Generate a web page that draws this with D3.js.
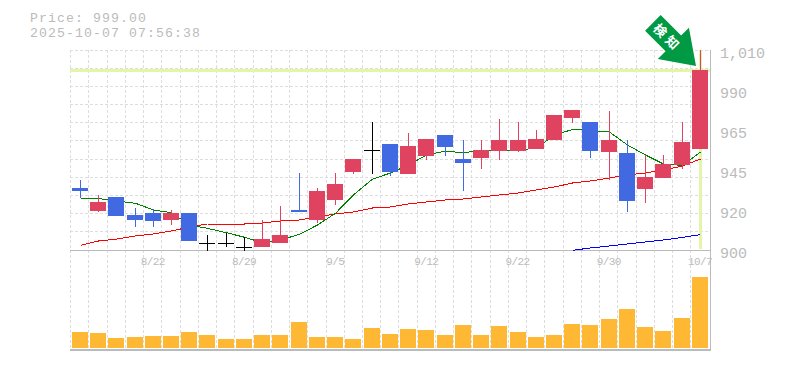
<!DOCTYPE html>
<html>
<head>
<meta charset="utf-8">
<script src="https://cdn.jsdelivr.net/npm/d3@7"></script>
<style>
html, body { margin: 0; padding: 0; background: #fff; }
svg { display: block; }
text { font-family: "Liberation Mono", monospace; fill: #bbb; }
.crisp { shape-rendering: crispEdges; }
</style>
</head>
<body>
<svg id="chart" width="785" height="370"></svg>
<script>
let dates = ["8/18","8/19","8/20","8/21","8/22","8/25","8/26","8/27","8/28","8/29",
    "9/1","9/2","9/3","9/4","9/5","9/8","9/9","9/10","9/11","9/12",
    "9/16","9/17","9/18","9/19","9/22","9/24","9/25","9/26","9/29","9/30",
    "10/1","10/2","10/3","10/6","10/7"]

let opens  = [934.1,921.45,929.15,919.25,920.35,916.5,920.35,904,904,901.8,
    901.65,903.85,922,916.5,927.5,942.9,955,958.3,941.8,951.7,
    963.25,950.05,950.6,954.45,954.45,955.55,960.5,972.6,970.4,953.9,
    953.35,933.55,939.6,946.75,955.55]
let closes = [932.45,926.4,918.7,916.5,915.95,920.35,904.95,904,904,901.8,
    906,908.25,920.9,932.45,936.3,950.05,955,942.9,957.2,961.05,
    956.65,947.85,955,960.5,960.5,961.05,974.25,977,954.45,960.5,
    926.95,940.15,947.3,959.4,999]
let highs  = [938.5,930.25,929.15,923.1,922.55,922,920.35,908.25,909.35,907.15,
    916.5,924.2,942.35,934.1,942.35,950.05,970.4,958.3,964.35,961.05,
    963.25,960.5,960.5,972.05,970.4,966,974.25,977,970.4,976.45,
    960.5,952.25,952.25,970.4,1010]
let lows   = [928.8,920.9,918.7,912.65,912.65,913.75,904.95,899.6,901.8,899.5,
    901.65,903.85,920.9,914.85,924.75,941.8,941.8,940.7,941.8,949.5,
    951.7,932.45,944.55,949.5,953.9,955.55,960.5,969.85,950.6,938.5,
    920.9,925.85,939.6,944.55,955.55]

let ma_short = [928.6,928.3,927,925.7,922,920.5,913.75,911.9,909.5,907,
    904,905.5,908.6,913.75,920.2,930.25,939,942.35,946.75,952.25,
    954.45,953.35,955,955,955,956,963.25,966.3,965.7,964.9,
    957.75,952.25,947.3,946.5,953.9]
let ma_mid = [902.6,904.95,906,907.7,908.8,910.45,912.65,914.3,914.3,914.3,
    914.85,915.95,916.5,918.15,919.8,920.9,923.1,923.65,925.3,926.4,
    927.5,928.05,929.15,930.25,931.35,933,934.65,936.85,937.95,939.6,
    941.25,942.35,944,946.2,950.05]
let ma_long = [null,null,null,null,null,null,null,null,null,null,
    null,null,null,null,null,null,null,null,null,null,
    null,null,null,null,null,null,null,899.85,901.1,902.2,
    903.3,904.4,905.5,906.9,908.5]

let volumes = [16,15,10,11,12,12,16,13,9,9,13,13,26,11,11,9,20,14,19,18,
    13,23,13,22,16,11,13,24,23,29,39,21,17,30,71]

let price_ticks = [900,922,944,966,988,1010]
let price_labels = ["900","920","945","965","990","1,010"]
let grid_prices = [900,910,920,930,940,950,960,970,980,990,1000,1010]
let date_ticks = ["8/22","8/29","9/5","9/12","9/22","9/30","10/7"]
let last_price = 999
let title_lines = ["Price: 999.00", "2025-10-07 07:56:38"]

let colors = {up: '#e0435f', down: '#4169e1', flat: '#000', vol: '#ffb833',
    grid: '#ddd', frame: '#bbb', mark: '#e3f5a8', arrow: '#009944'}

let svg = d3.select('#chart')

let x = d3.scaleBand().domain(dates).range([70.7, 709])
let y = d3.scaleLinear().domain([900, 1010]).range([250, 50])
let yVol = d3.scaleLinear().domain([0, 100]).range([348, 248])

let center = d => Math.round(x(d) + x.step() / 2)

// GRID
svg.append('g').attr('class', 'crisp')
    .selectAll('line.h').data(grid_prices).enter().append('line')
    .attr('x1', 70).attr('x2', 710)
    .attr('y1', d => Math.floor(y(d)) + 0.5).attr('y2', d => Math.floor(y(d)) + 0.5)
    .attr('stroke', colors.grid).attr('stroke-dasharray', '3,2')

svg.append('g').attr('class', 'crisp')
    .selectAll('line.v').data(dates).enter().append('line')
    .attr('x1', d => Math.floor(x(d)) + 0.5).attr('x2', d => Math.floor(x(d)) + 0.5)
    .attr('y1', 50).attr('y2', 350)
    .attr('stroke', colors.grid).attr('stroke-dasharray', '3,2')

// LAST PRICE MARKER
let marker = svg.append('g').attr('class', 'crisp')
marker.append('rect')
    .attr('x', 70).attr('width', 640)
    .attr('y', y(last_price) - 1).attr('height', 3)
    .attr('fill', colors.mark)
marker.append('rect')
    .attr('x', center(dates[dates.length - 1]) - 1).attr('width', 3)
    .attr('y', 50).attr('height', 199)
    .attr('fill', colors.mark)

// FRAME
let frame = svg.append('g').attr('class', 'crisp').attr('stroke', colors.frame)
frame.append('line').attr('x1', 70).attr('x2', 711).attr('y1', 250.5).attr('y2', 250.5)
frame.append('line').attr('x1', 70).attr('x2', 711).attr('y1', 350).attr('y2', 350).attr('stroke-width', 2)
frame.append('line').attr('x1', 710.5).attr('x2', 710.5).attr('y1', 50).attr('y2', 351)

// VOLUME
svg.append('g').attr('class', 'crisp')
    .selectAll('rect').data(dates).enter().append('rect')
    .attr('x', d => center(d) - 8).attr('width', 16)
    .attr('y', (d, i) => yVol(volumes[i]))
    .attr('height', (d, i) => yVol(0) - yVol(volumes[i]))
    .attr('fill', colors.vol)

// MOVING AVERAGES
let maLine = d3.line()
    .defined(d => d.value !== null)
    .x(d => center(d.date) + 0.5)
    .y(d => y(d.value))

let ma_series = [[ma_long, '#00f'], [ma_mid, '#f00'], [ma_short, '#008000']]
ma_series.forEach(function(s){
    svg.append('path')
        .datum(dates.map((date, i) => ({date: date, value: s[0][i]})))
        .attr('class', 'crisp')
        .attr('fill', 'none')
        .attr('stroke', s[1])
        .attr('d', maLine)
})

// CANDLES
let candles = dates.map((date, i) => ({date: date, open: opens[i], close: closes[i], high: highs[i], low: lows[i]}))
let candleColor = d => d.close > d.open ? colors.up : d.close < d.open ? colors.down : colors.flat

let candle = svg.append('g').attr('class', 'crisp')
    .selectAll('g').data(candles).enter().append('g')

candle.append('line')
    .attr('x1', d => center(d.date) + 0.5).attr('x2', d => center(d.date) + 0.5)
    .attr('y1', d => y(d.high)).attr('y2', d => y(d.low))
    .attr('stroke', candleColor)

candle.append('rect')
    .attr('x', d => center(d.date) - 8).attr('width', 16)
    .attr('y', d => y(Math.max(d.open, d.close)))
    .attr('height', d => Math.max(1, Math.abs(y(d.open) - y(d.close))))
    .attr('fill', candleColor)

// AXES
let priceAxis = d3.axisRight(y)
    .tickValues(price_ticks)
    .tickFormat((d, i) => price_labels[i])
    .tickSize(0).tickPadding(10)
svg.append('g')
    .attr('transform', 'translate(710,3)')
    .call(priceAxis)
    .call(g => g.select('.domain').remove())
    .selectAll('text').style('font-size', '15px')

let dateAxis = d3.axisBottom(x)
    .tickValues(date_ticks)
    .tickSize(0).tickPadding(0)
svg.append('g')
    .attr('transform', 'translate(0,257)')
    .call(dateAxis)
    .call(g => g.select('.domain').remove())
    .selectAll('text')
    .style('font-size', '11px')
    .style('letter-spacing', '-0.6px')

// TITLE
svg.selectAll('text.title').data(title_lines).enter().append('text')
    .attr('class', 'title')
    .attr('x', 30)
    .attr('y', (d, i) => 22 + i * 15)
    .style('font-size', '13.2px')
    .style('letter-spacing', '1.08px')
    .text(d => d)

// ARROW
let tipX = center(dates[dates.length - 1]) - 4
let tipY = y(last_price) - 4
let arrow = svg.append('g').attr('transform', `translate(${tipX},${tipY}) rotate(45)`)
arrow.append('path')
    .attr('d', 'M0,0 L-32,-22 L-32,-11 L-61,-11 L-61,11 L-32,11 L-32,22 Z')
    .attr('fill', colors.arrow)
arrow.append('text')
    .attr('x', -40).attr('y', 5)
    .attr('text-anchor', 'middle')
    .style('font-family', '"Noto Sans CJK JP"')
    .style('font-size', '13px')
    .style('font-weight', 'bold')
    .style('letter-spacing', '4px')
    .style('fill', '#fff')
    .text('検知')
</script>
</body>
</html>
